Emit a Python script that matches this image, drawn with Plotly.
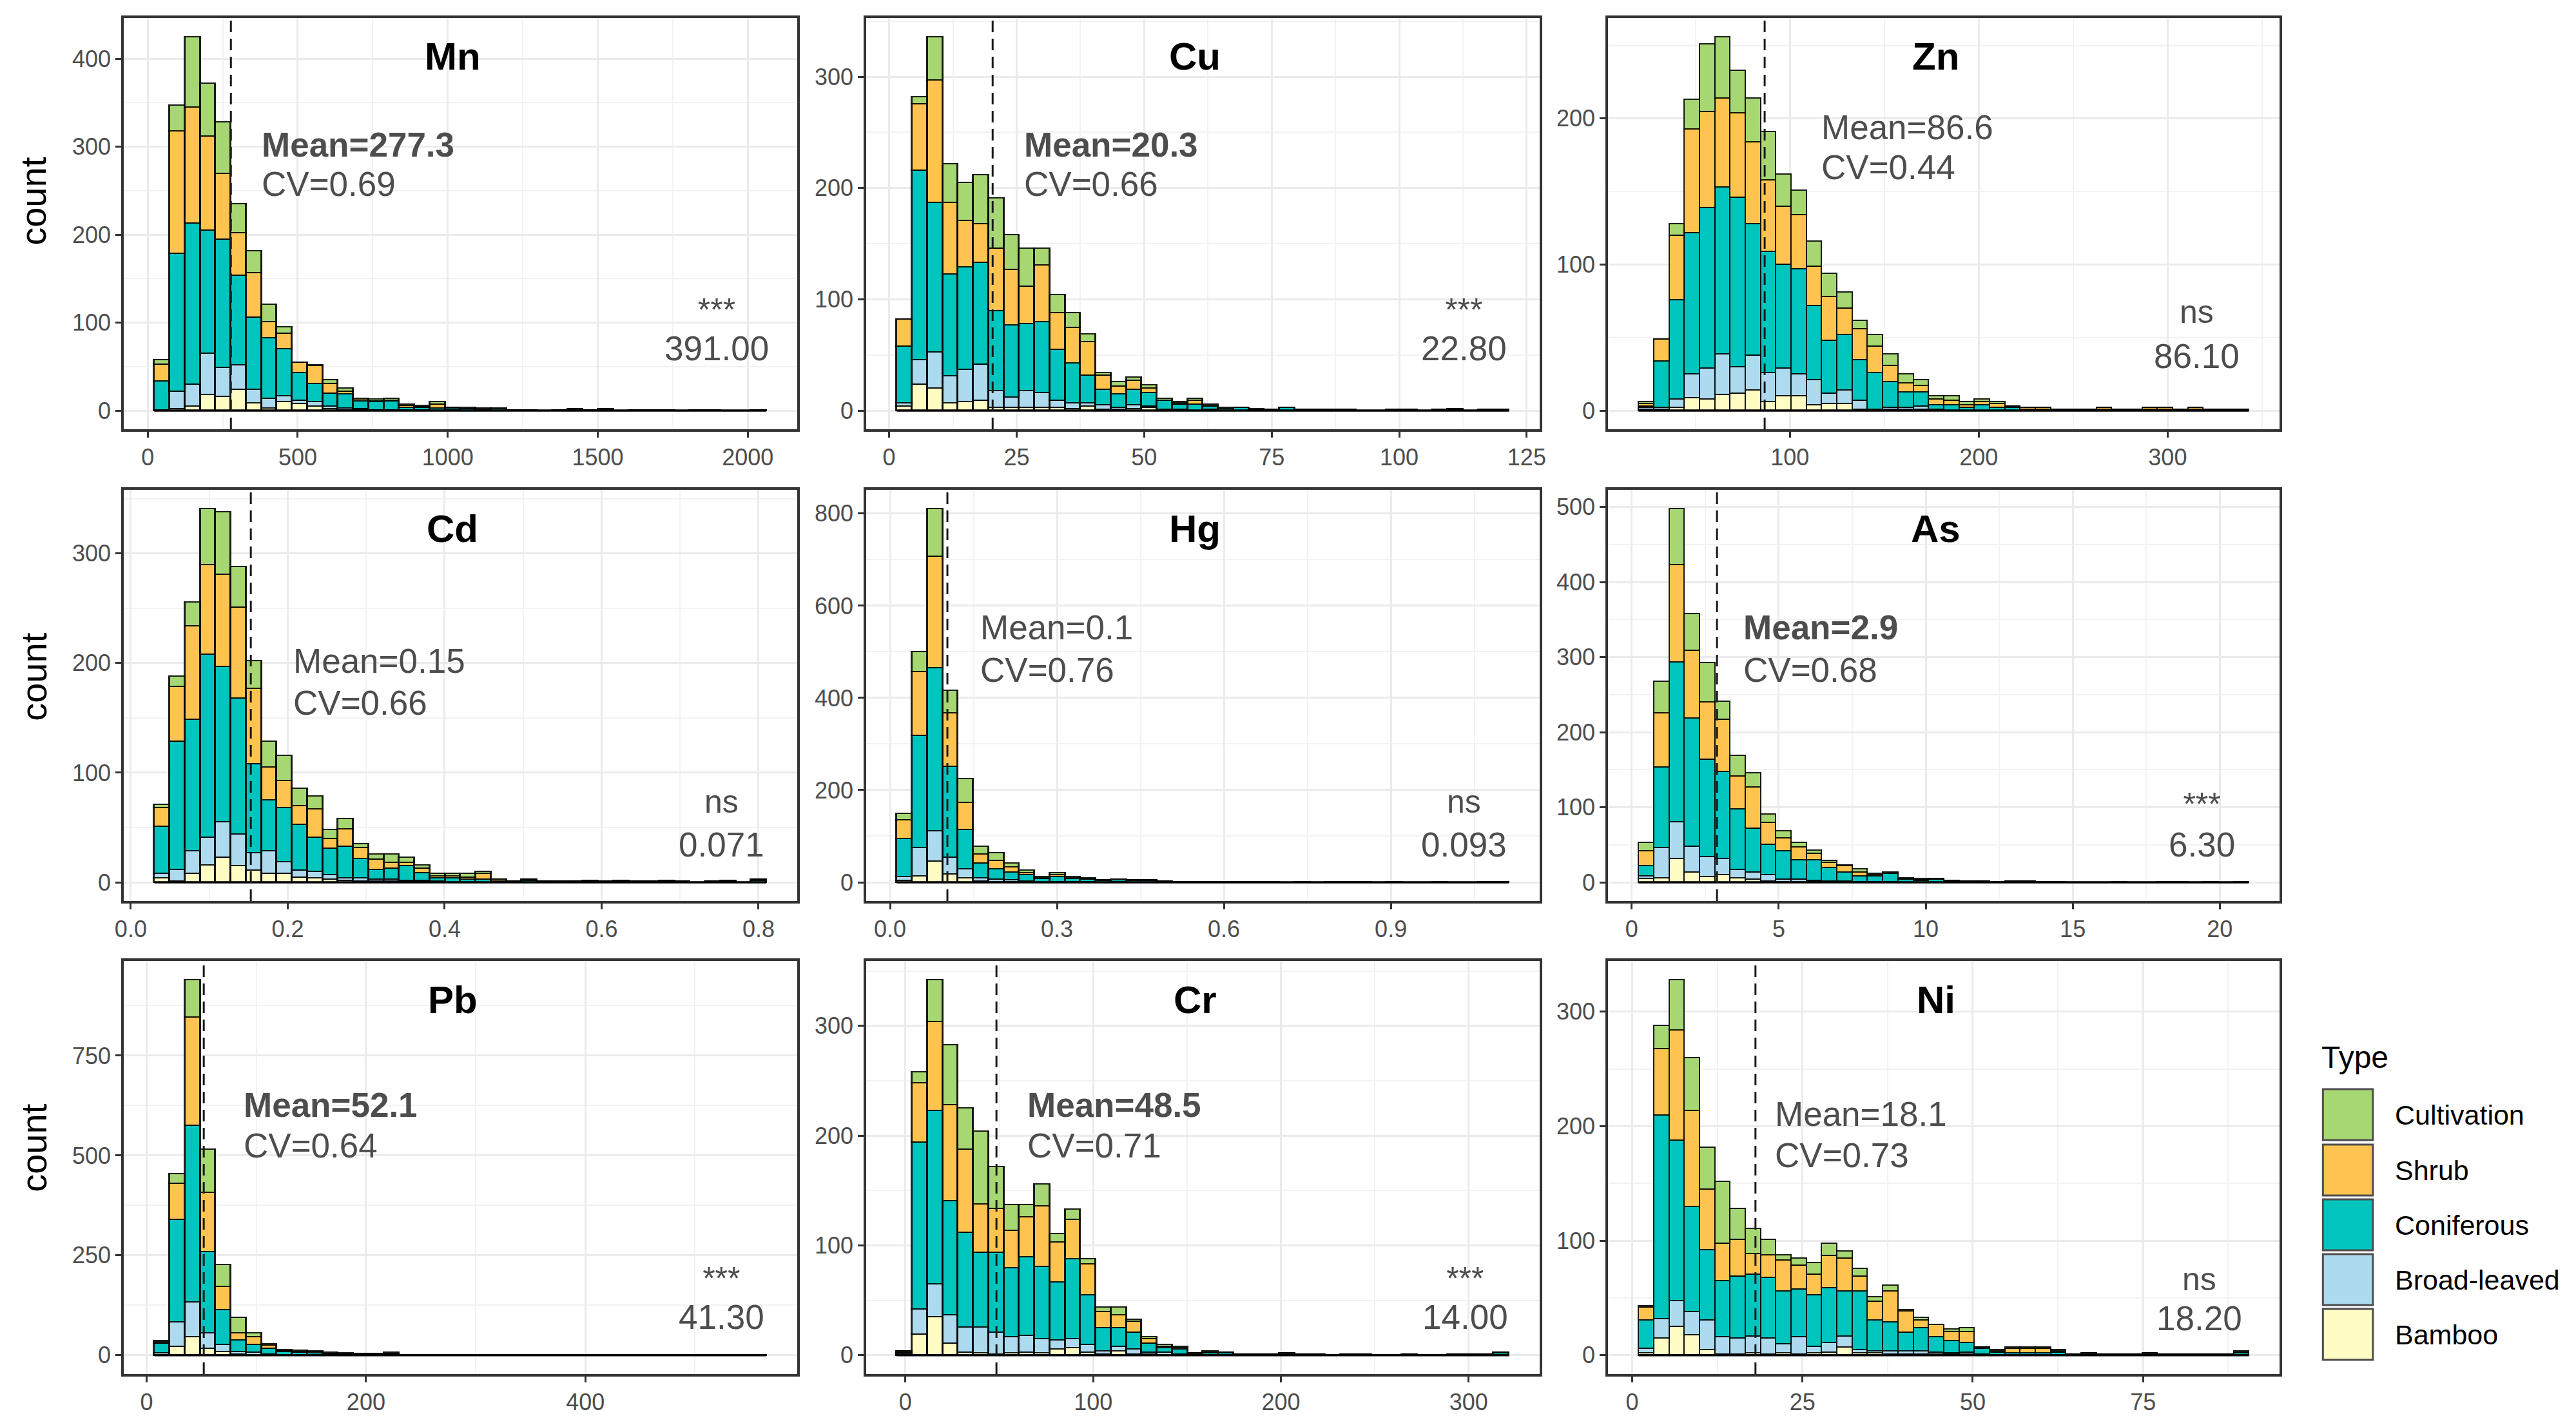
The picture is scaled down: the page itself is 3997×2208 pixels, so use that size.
import plotly.graph_objects as go

# ---------------- data ----------------
ELEMENTS = ["Mn", "Cu", "Zn", "Cd", "Hg", "As", "Pb", "Cr", "Ni"]
TYPES = ["Bamboo", "Broad-leaved", "Coniferous", "Shrub", "Cultivation"]   # stacking order (bottom -> top)
LEGEND_ORDER = ["Cultivation", "Shrub", "Coniferous", "Broad-leaved", "Bamboo"]
COLORS = {"Cultivation": "#A6D773", "Shrub": "#FEC44F", "Coniferous": "#00C5BE",
          "Broad-leaved": "#ADDAEF", "Bamboo": "#FFFDC4"}

BIN_START = [22, 1.5, 19.8, 0.030, 0.012, 0.23, 7, -4.6, 0.93]
BIN_WIDTH = [51, 3.0, 8.08, 0.0195, 0.0275, 0.519, 13.95, 8.15, 2.24]
MEANS = [277.3, 20.3, 86.6, 0.153, 0.103, 2.9, 52.1, 48.5, 18.1]
MEAN_LABELS = ["Mean=277.3", "Mean=20.3", "Mean=86.6", "Mean=0.15", "Mean=0.1",
               "Mean=2.9", "Mean=52.1", "Mean=48.5", "Mean=18.1"]
MEAN_BOLD = [True, True, False, False, False, True, True, True, False]
CV_LABELS = ["CV=0.69", "CV=0.66", "CV=0.44", "CV=0.66", "CV=0.76",
             "CV=0.68", "CV=0.64", "CV=0.71", "CV=0.73"]
SIG_MARKS = ["***", "***", "ns", "ns", "ns", "***", "***", "***", "ns"]
SIG_VALUES = ["391.00", "22.80", "86.10", "0.071", "0.093", "6.30", "41.30", "14.00", "18.20"]
X_DTICK = [500, 25, 100, 0.2, 0.3, 5, 200, 100, 25]
Y_DTICK = [100, 100, 100, 100, 200, 100, 250, 100, 100]
X_FORMAT = ["", "", "", ".1f", ".1f", "", "", "", ""]

Z17 = [0] * 17
Z18 = [0] * 18
Z22 = [0] * 22
Z23 = [0] * 23
Z12 = [0] * 12

# Mn
MN_BAMBOO = [0, 2, 5, 18, 16, 24, 9, 3, 10, 8, 5, 2, 1, 1, 0, 0, 0, 0, 0, 0, 0, 0, 0] + Z17
MN_BROAD = [1, 20, 25, 47, 33, 28, 15, 11, 7, 4, 5, 3, 2, 1, 1, 1, 1, 1, 0, 1, 0, 0, 0] + Z17
MN_CONIF = [33, 157, 183, 140, 146, 102, 82, 69, 53, 31, 21, 15, 16, 9, 9, 10, 3, 3, 3, 2, 2, 1, 2,
            1, 1, 0, 1, 1, 1, 1, 0, 1, 0, 1, 0, 1, 0, 0, 0, 1]
MN_SHRUB = [19, 139, 132, 107, 75, 48, 51, 18, 18, 12, 20, 11, 3, 2, 1, 1, 2, 1, 4, 1, 1, 1, 0,
            0, 0, 0, 0, 1, 0, 1, 0, 0, 1, 0, 0, 0, 1, 0, 0, 0]
MN_CULT = [5, 29, 80, 60, 58, 33, 25, 20, 7, 0, 1, 4, 4, 1, 2, 2, 1, 1, 3, 0, 1, 1, 1] + Z17

# Cu
CU_BAMBOO = [4, 24, 20, 7, 8, 9, 3, 3, 3, 3, 3, 2, 4, 1, 1, 2, 3, 1, 1, 0, 0, 0, 0, 0, 0, 0] + [0] * 14
CU_BROAD = [3, 22, 33, 24, 29, 33, 15, 9, 15, 13, 6, 5, 3, 4, 2, 3, 1, 0, 0, 0, 1, 0, 0, 0, 0, 0] + [0] * 14
CU_CONIF = [51, 170, 134, 92, 92, 91, 72, 65, 60, 64, 46, 36, 25, 14, 12, 14, 12, 8, 5, 6, 3, 2, 3, 1, 1, 3,
            1, 1, 1, 0, 0, 0, 1, 0, 0, 1, 1, 0, 1, 1]
CU_SHRUB = [24, 60, 110, 64, 42, 35, 56, 50, 34, 51, 33, 32, 30, 13, 7, 8, 4, 0, 1, 3, 1, 0, 0, 0, 0, 0,
            0, 0, 0, 1, 0, 0, 0, 1, 0, 0, 1, 0, 0, 0]
CU_CULT = [0, 6, 39, 35, 34, 44, 45, 31, 34, 15, 16, 13, 7, 2, 4, 3, 3, 2, 1, 2, 1, 1, 0, 1, 0, 0] + [0] * 14

# Zn
ZN_BAMBOO = [1, 1, 2, 9, 8, 11, 12, 14, 6, 10, 10, 4, 5, 5, 1, 0, 1, 1, 1, 0, 0, 0, 0, 0, 0] + [0] * 15
ZN_BROAD = [1, 1, 6, 16, 21, 28, 18, 24, 20, 19, 15, 17, 7, 9, 6, 1, 1, 1, 2, 1, 0, 0, 0, 0, 0] + [0] * 15
ZN_CONIF = [1, 32, 68, 97, 110, 114, 116, 90, 83, 71, 72, 51, 36, 38, 28, 25, 18, 11, 10, 3, 4, 2, 4, 2, 2,
            1, 1, 1, 1, 1, 1, 1, 1, 1, 1, 1, 1, 1, 1, 1]
ZN_SHRUB = [2, 15, 44, 71, 66, 61, 58, 56, 49, 40, 37, 27, 30, 18, 21, 18, 11, 6, 4, 4, 3, 2, 2, 3, 1,
            1, 1, 0, 0, 0, 1, 0, 0, 1, 1, 0, 1, 0, 0, 0]
ZN_CULT = [1, 0, 8, 20, 46, 42, 29, 30, 33, 22, 17, 17, 16, 11, 6, 8, 8, 6, 4, 2, 3, 2, 2, 1, 0] + [0] * 15

# Cd
CD_BAMBOO = [4, 1, 8, 16, 23, 15, 11, 8, 8, 5, 4, 3, 2, 1, 1, 1, 1, 1, 0, 0, 0, 0, 0] + Z17
CD_BROAD = [4, 11, 21, 25, 32, 29, 16, 21, 11, 6, 6, 4, 2, 3, 2, 2, 1, 1, 1, 0, 0, 0, 0] + Z17
CD_CONIF = [43, 117, 120, 167, 142, 124, 81, 46, 49, 42, 31, 24, 29, 18, 9, 10, 13, 7, 3, 4, 3, 3, 1,
            1, 2, 1, 0, 1, 1, 1, 1, 1, 1, 1, 1, 0, 1, 1, 0, 2]
CD_SHRUB = [17, 50, 85, 82, 84, 83, 69, 30, 25, 17, 26, 9, 16, 10, 9, 5, 3, 4, 2, 2, 2, 5, 2,
            0, 1, 0, 1, 0, 1, 0, 1, 0, 0, 1, 0, 0, 0, 1, 0, 1]
CD_CULT = [3, 9, 22, 51, 57, 37, 25, 24, 23, 16, 12, 8, 9, 3, 5, 8, 5, 3, 2, 2, 3, 2, 0] + Z17

# Hg
HG_BAMBOO = [4, 14, 46, 18, 10, 3, 2, 2, 1, 0, 0, 0, 0, 0, 0, 0, 0, 0] + Z22
HG_BROAD = [8, 62, 66, 37, 19, 7, 5, 4, 2, 0, 2, 1, 1, 0, 1, 0, 0, 0] + Z22
HG_CONIF = [83, 243, 354, 196, 85, 32, 22, 17, 14, 8, 10, 7, 6, 4, 4, 4, 4, 2,
            1, 1, 1, 1, 1, 1, 1, 0, 1, 0, 1, 1, 1, 0, 1, 0, 0, 1, 0, 0, 1, 1]
HG_SHRUB = [41, 138, 242, 117, 60, 20, 18, 10, 4, 2, 5, 2, 2, 1, 1, 1, 1, 1,
            1, 1, 0, 1, 0, 1, 0, 0, 0, 0, 0, 0, 1, 0, 0, 0, 0, 0, 0, 0, 0, 0]
HG_CULT = [14, 43, 103, 49, 51, 16, 17, 9, 5, 3, 4, 2, 1, 1, 1, 1, 1, 0] + Z22

# As
AS_BAMBOO = [5, 6, 32, 14, 8, 10, 6, 4, 2, 1, 1, 1, 1, 1, 0, 0, 0, 0, 0, 0, 0, 0, 0] + Z17
AS_BROAD = [4, 40, 49, 34, 26, 22, 11, 10, 8, 3, 3, 2, 1, 1, 1, 1, 1, 0, 0, 0, 0, 0, 0] + Z17
AS_CONIF = [13, 108, 213, 171, 130, 116, 81, 58, 41, 38, 26, 27, 18, 12, 8, 8, 11, 4, 3, 4, 2, 1, 2,
            1, 1, 1, 1, 1, 0, 0, 0, 1, 0, 0, 1, 1, 0, 1, 0, 1]
AS_SHRUB = [20, 72, 129, 90, 76, 69, 44, 55, 29, 17, 17, 9, 7, 8, 5, 1, 1, 1, 1, 1, 1, 1, 0,
            0, 1, 1, 0, 0, 0, 0, 0, 0, 0, 0, 0, 0, 0, 0, 0, 0]
AS_CULT = [11, 42, 75, 49, 53, 24, 27, 19, 11, 10, 6, 4, 2, 1, 4, 2, 1, 1, 1, 0, 0, 0, 0] + Z17

# Pb
PB_BAMBOO = [2, 23, 46, 17, 9, 3, 2, 1, 0, 0, 0, 0, 0, 0, 0, 0, 0] + Z23
PB_BROAD = [5, 61, 87, 40, 18, 6, 6, 2, 1, 1, 1, 0, 0, 0, 0, 0, 0] + Z23
PB_CONIF = [23, 256, 443, 202, 87, 29, 20, 15, 8, 7, 6, 5, 4, 3, 3, 5, 1,
            1, 1, 1, 1, 1, 1, 1, 1, 1, 1, 1, 1, 1, 1, 1, 1, 1, 1, 1, 1, 1, 1, 1]
PB_SHRUB = [4, 91, 271, 149, 58, 19, 18, 7, 3, 2, 2, 2, 1, 1, 1, 2, 1,
            1, 0, 1, 0, 0, 0, 1, 0, 0, 0, 0, 0, 1, 0, 0, 0, 0, 0, 0, 0, 0, 1, 0]
PB_CULT = [3, 23, 93, 108, 55, 38, 11, 4, 2, 2, 2, 1, 1, 1, 0, 1, 0] + Z23

# Cr
CR_BAMBOO = [1, 19, 35, 11, 3, 2, 1, 2, 3, 2, 6, 7, 3, 1, 4, 1, 1, 0, 0, 0, 0, 0] + Z18
CR_BROAD = [1, 23, 30, 26, 23, 24, 20, 15, 15, 13, 8, 8, 7, 3, 4, 5, 2, 3, 1, 0, 0, 0] + Z18
CR_CONIF = [1, 152, 158, 104, 86, 68, 73, 63, 72, 66, 53, 73, 45, 21, 17, 15, 8, 4, 5, 1, 2, 2,
            1, 1, 1, 1, 1, 1, 0, 1, 1, 0, 0, 1, 0, 0, 1, 1, 1, 2]
CR_SHRUB = [1, 54, 81, 87, 76, 44, 40, 34, 36, 55, 36, 36, 28, 15, 12, 10, 4, 1, 1, 1, 1, 1,
            0, 0, 0, 1, 0, 0, 0, 0, 0, 0, 0, 0, 0, 0, 0, 0, 0, 1]
CR_CULT = [0, 10, 38, 55, 37, 66, 38, 23, 11, 20, 8, 9, 5, 4, 7, 2, 2, 2, 1, 0, 1, 0] + Z18

# Ni
NI_BAMBOO = [2, 15, 25, 18, 5, 1, 1, 2, 1, 2, 1, 2, 3, 7, 2, 2, 1, 1, 1, 1, 1, 1, 0, 0, 0, 0, 0, 0] + Z12
NI_BROAD = [4, 17, 23, 20, 26, 15, 14, 15, 14, 8, 15, 6, 8, 10, 3, 2, 3, 3, 3, 2, 1, 2, 1, 0, 0, 0, 0, 0] + Z12
NI_CONIF = [25, 178, 140, 92, 61, 49, 54, 54, 53, 46, 42, 45, 48, 39, 51, 27, 25, 16, 20, 13, 11, 8, 5, 3, 2, 2, 2, 3,
            1, 1, 1, 1, 1, 1, 1, 1, 1, 1, 1, 2]
NI_SHRUB = [11, 58, 96, 84, 53, 33, 32, 18, 20, 27, 21, 18, 28, 29, 13, 16, 27, 19, 7, 11, 8, 10, 1, 1, 4, 4, 4, 1,
            0, 1, 0, 0, 0, 1, 0, 0, 0, 0, 0, 1]
NI_CULT = [1, 20, 44, 46, 37, 54, 27, 22, 13, 5, 6, 10, 11, 6, 7, 4, 5, 1, 2, 0, 2, 3, 0, 1, 1, 1, 1, 1] + [0] * 11 + [1]

COUNTS = {
    "Mn": [MN_BAMBOO, MN_BROAD, MN_CONIF, MN_SHRUB, MN_CULT],
    "Cu": [CU_BAMBOO, CU_BROAD, CU_CONIF, CU_SHRUB, CU_CULT],
    "Zn": [ZN_BAMBOO, ZN_BROAD, ZN_CONIF, ZN_SHRUB, ZN_CULT],
    "Cd": [CD_BAMBOO, CD_BROAD, CD_CONIF, CD_SHRUB, CD_CULT],
    "Hg": [HG_BAMBOO, HG_BROAD, HG_CONIF, HG_SHRUB, HG_CULT],
    "As": [AS_BAMBOO, AS_BROAD, AS_CONIF, AS_SHRUB, AS_CULT],
    "Pb": [PB_BAMBOO, PB_BROAD, PB_CONIF, PB_SHRUB, PB_CULT],
    "Cr": [CR_BAMBOO, CR_BROAD, CR_CONIF, CR_SHRUB, CR_CULT],
    "Ni": [NI_BAMBOO, NI_BROAD, NI_CONIF, NI_SHRUB, NI_CULT],
}

# ---------------- layout constants (pixels) ----------------
W, H = 3997, 2208
COL_X = [(179, 1230), (1338, 2389), (2496, 3544)]
ROW_Y = [(28, 666), (760, 1398), (1491, 2132)]
FONT = "Liberation Sans, Arial, Helvetica, sans-serif"
TXT = "#4D4D4D"
MEAN_POS = [(213, 196, 257), (245, 196, 258), (331, 169, 232),
            (263, 265, 330), (176, 213, 279), (209, 213, 279),
            (185, 223, 286), (250, 223, 286), (259, 237, 301)]
# (x centre, baseline of the mark line, baseline of the value line) in pixels
SIG_POS = [(1105, 498, 559), (2271, 498, 559), (3415, 501, 571),
           (1112, 1261, 1329), (2271, 1261, 1329), (3423, 1265, 1329),
           (1112, 2001, 2062), (2273, 2001, 2062), (3419, 2002, 2064)]


def fx(px):
    return px / W


def fy(py):
    return 1 - py / H


fig = go.Figure()
annotations = []
shapes = []
layout_axes = {}

for k, el in enumerate(ELEMENTS):
    r, c = divmod(k, 3)
    ax = "" if k == 0 else str(k + 1)
    xa, ya = "x" + ax, "y" + ax
    n = len(COUNTS[el][0])
    start, w = BIN_START[k], BIN_WIDTH[k]
    centers = [start + w * (i + 0.5) for i in range(n)]
    for t_i, tname in enumerate(TYPES):
        fig.add_trace(go.Bar(
            x=centers, y=COUNTS[el][t_i], width=w, name=tname,
            marker=dict(color=COLORS[tname], line=dict(color="rgba(0,0,0,0.88)", width=2.5)),
            xaxis=xa, yaxis=ya, showlegend=False,
            hovertemplate=tname + ": %{y}<extra></extra>"))
    totals = [sum(col) for col in zip(*COUNTS[el])]
    ymax = max(totals)
    lo, hi = start, start + w * n
    span = hi - lo
    x0p, x1p = COL_X[c]
    y0p, y1p = ROW_Y[r]
    common = dict(showline=True, mirror=True, linecolor="#333333", linewidth=3.5,
                  ticks="outside", ticklen=9, tickwidth=3, tickcolor="#333333",
                  showgrid=True, gridcolor="#EBEBEB", gridwidth=2.5, zeroline=False,
                  tickfont=dict(family=FONT, size=36, color=TXT), exponentformat="none",
                  tickmode="linear", tick0=0)
    layout_axes["xaxis" + ax] = dict(
        common, domain=[fx(x0p), fx(x1p)], anchor=ya,
        range=[lo - 0.05 * span, hi + 0.05 * span], dtick=X_DTICK[k],
        tickformat=X_FORMAT[k],
        minor=dict(dtick=X_DTICK[k] / 2, tick0=0, showgrid=True, gridcolor="#F2F2F2", gridwidth=1.5))
    layout_axes["yaxis" + ax] = dict(
        common, domain=[fy(y1p), fy(y0p)], anchor=xa,
        range=[-0.05 * ymax, 1.05 * ymax], dtick=Y_DTICK[k],
        minor=dict(dtick=Y_DTICK[k] / 2, tick0=0, showgrid=True, gridcolor="#F2F2F2", gridwidth=1.5))
    # baseline drawn by the outlines of empty bins in the original
    shapes.append(dict(type="line", xref=xa, yref=ya, x0=lo, x1=hi, y0=0, y1=0,
                       line=dict(color="black", width=3.5), layer="above"))
    # dashed mean line
    shapes.append(dict(type="line", xref=xa, yref=ya + " domain", x0=MEANS[k], x1=MEANS[k], y0=0, y1=1,
                       line=dict(color="#1A1A1A", width=3, dash="18px,10px"), layer="above"))
    annotations.append(dict(text="<b>" + el + "</b>", xref="paper", yref="paper",
                            x=fx((x0p + x1p) / 2 - 12), y=fy(y0p + 60), xanchor="center", yanchor="middle",
                            showarrow=False, font=dict(family=FONT, size=60, color="black")))
    mx, my, cy = MEAN_POS[k]
    mtxt = "<b>" + MEAN_LABELS[k] + "</b>" if MEAN_BOLD[k] else MEAN_LABELS[k]
    annotations.append(dict(text=mtxt, xref="paper", yref="paper", x=fx(x0p + mx), y=fy(y0p + my),
                            xanchor="left", yanchor="middle", showarrow=False,
                            font=dict(family=FONT, size=53, color=TXT)))
    annotations.append(dict(text=CV_LABELS[k], xref="paper", yref="paper", x=fx(x0p + mx), y=fy(y0p + cy),
                            xanchor="left", yanchor="middle", showarrow=False,
                            font=dict(family=FONT, size=53, color=TXT)))
    # significance mark + value as one two-line text (line pitch set by the base font size)
    sx, b1, b2 = SIG_POS[k]
    pitch = b2 - b1
    sig_txt = ("<span style='font-size:50px'>" + SIG_MARKS[k] + "</span><br>"
               "<span style='font-size:53px'>" + SIG_VALUES[k] + "</span>")
    annotations.append(dict(text=sig_txt, xref="paper", yref="paper", x=fx(sx), y=fy(b2 + 13),
                            xanchor="center", yanchor="bottom", showarrow=False,
                            font=dict(family=FONT, size=pitch / 1.3, color=TXT)))

# y-axis title "count" on left column
for r, yc in enumerate([312, 1050, 1781]):
    annotations.append(dict(text="count", xref="paper", yref="paper", x=fx(38), y=fy(yc),
                            xanchor="center", yanchor="middle", textangle=-90, showarrow=False,
                            font=dict(family=FONT, size=56, color="black")))

# legend (drawn manually to match the large keys)
annotations.append(dict(text="Type", xref="paper", yref="paper", x=fx(3608), y=fy(1640),
                        xanchor="left", yanchor="middle", showarrow=False,
                        font=dict(family=FONT, size=48, color="black")))
KEY_TOPS = [1690, 1776, 1861, 1946, 2031]
for name, top in zip(LEGEND_ORDER, KEY_TOPS):
    shapes.append(dict(type="rect", xref="paper", yref="paper", x0=fx(3612), x1=fx(3690),
                       y0=fy(top + 79), y1=fy(top), fillcolor=COLORS[name],
                       line=dict(color="#4D4D4D", width=3), layer="above"))
    annotations.append(dict(text=name, xref="paper", yref="paper", x=fx(3722), y=fy(top + 40),
                            xanchor="left", yanchor="middle", showarrow=False,
                            font=dict(family=FONT, size=43, color="black")))

fig.update_layout(
    width=W, height=H, margin=dict(l=0, r=0, t=0, b=0),
    paper_bgcolor="white", plot_bgcolor="white",
    barmode="stack", bargap=0, showlegend=False,
    annotations=annotations, shapes=shapes, **layout_axes)

fig.write_html("out.html", config={"displayModeBar": False},
               post_script="document.body.style.margin='0';document.body.style.overflow='hidden';")
